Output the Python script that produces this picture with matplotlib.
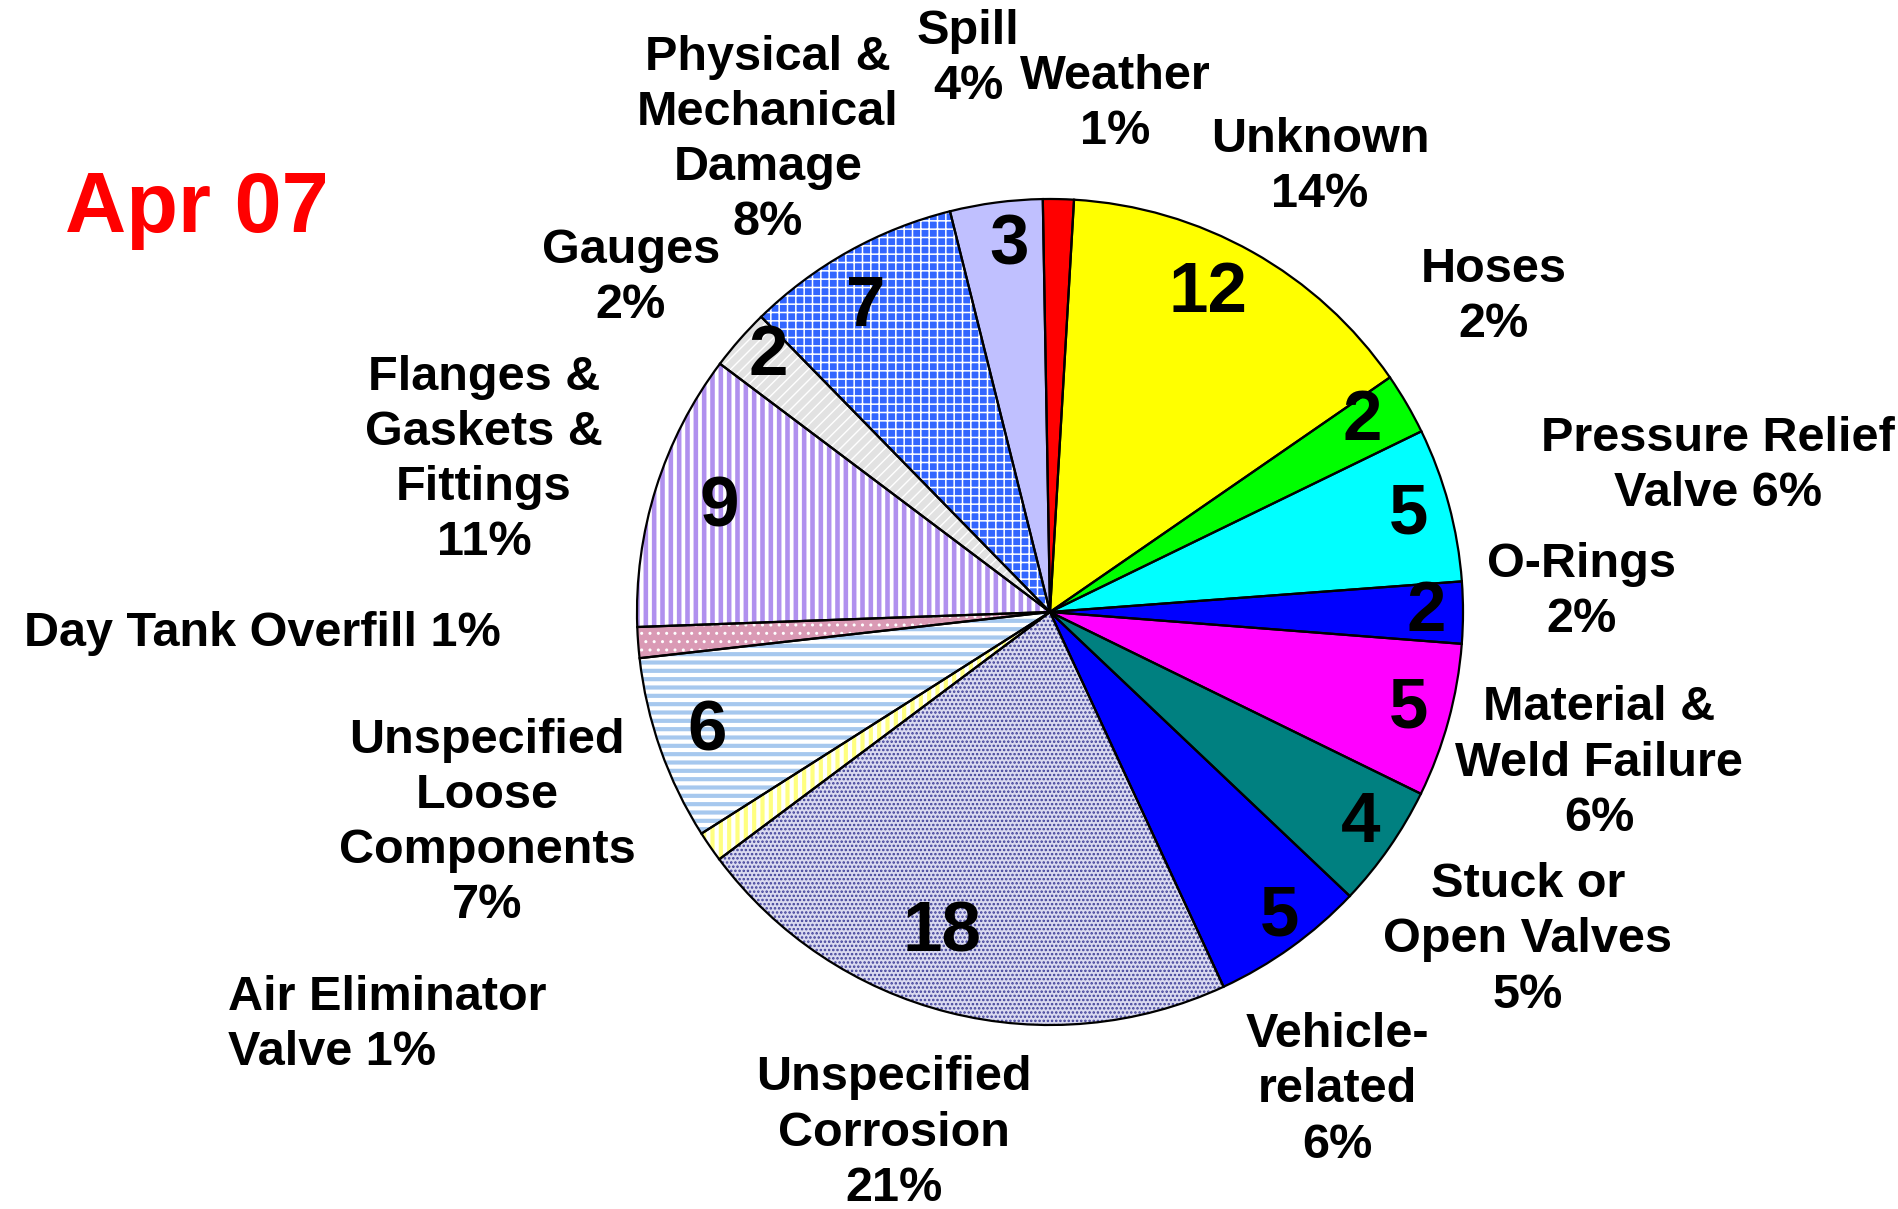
import numpy as np
import matplotlib.pyplot as plt

# slices, clockwise from 12 o'clock
causes = ['Weather', 'Unknown', 'Hoses', 'Pressure Relief Valve', 'O-Rings',
          'Material & Weld Failure', 'Stuck or Open Valves', 'Vehicle-related',
          'Unspecified Corrosion', 'Air Eliminator Valve',
          'Unspecified Loose Components', 'Day Tank Overfill',
          'Flanges & Gaskets & Fittings', 'Gauges',
          'Physical & Mechanical Damage', 'Spill']
counts = [1, 12, 2, 5, 2, 5, 4, 5, 18, 1, 6, 1, 9, 2, 7, 3]
labels = ['Weather\n1%', 'Unknown\n14%', 'Hoses\n2%', 'Pressure Relief\nValve 6%',
          'O-Rings\n2%', 'Material &\nWeld Failure\n6%', 'Stuck or\nOpen Valves\n5%',
          'Vehicle-\nrelated\n6%', 'Unspecified\nCorrosion\n21%',
          'Air Eliminator\nValve 1%', 'Unspecified\nLoose\nComponents\n7%',
          'Day Tank Overfill 1%', 'Flanges &\nGaskets &\nFittings\n11%',
          'Gauges\n2%', 'Physical &\nMechanical\nDamage\n8%', 'Spill\n4%']

faces = ['#FF0000', '#FFFF00', '#00FF00', '#00FFFF', '#0000FF', '#FF00FF',
         '#008080', '#0000FF', '#DADAF0', '#FFFFFF', '#FFFFFF', '#DA9AB5',
         '#FFFFFF', '#E2E2E2', '#3366FF', '#C0C0FF']
hatches = [None, None, None, None, None, None, None, None, '....', '||', '--',
           '..', '||', '///', '++', None]
hatch_colors = [None, None, None, None, None, None, None, None, '#3E3E98',
                '#FFFF80', '#A6C8EE', '#FFFFFF', '#B090EE', '#FFFFFF',
                '#FFFFFF', None]
hatch_lws = [0, 0, 0, 0, 0, 0, 0, 0, 1.2, 3.0, 3.0, 1.0, 3.3, 1.0, 1.1, 0]

# layout (pixels, y from top)
W, H = 1899, 1209
cx, cy, R = 1050, H - 612, 413
label_xy = [(1115, 104), (1320, 167), (1494, 297), (1718, 466), (1582, 592),
            (1599, 763), (1528, 940), (1337, 1090), (894, 1133), (228, 1025),
            (487, 823), (262, 633), (484, 460), (631, 278), (768, 140), (968, 59)]
# count label placement: fraction of radius and angle nudge (deg) from mid-angle
count_r = [0, 0.86, 0.885, 0.90, 0.91, 0.90, 0.91, 0.925, 0.82, 0, 0.88, 0,
           0.84, 0.92, 0.86, 0.89]
count_dang = [0, 3.0, 1.0, 0, 0, 0, 0.5, 1.3, -4.4, 0, 0, 0, 0, -0.8, 2.1, -1.1]

font = 'Liberation Sans'

fig = plt.figure(figsize=(W / 100, H / 100), dpi=100)
ax = fig.add_axes([0, 0, 1, 1])

wedges, _ = ax.pie(counts, colors=faces, startangle=91, counterclock=False,
                   center=(cx, cy), radius=R, wedgeprops=dict(linewidth=0))
for w, ht, hc, hlw in zip(wedges, hatches, hatch_colors, hatch_lws):
    if ht:
        w.set_hatch(ht)
        w.set_edgecolor(hc)
        if hasattr(w, 'set_hatch_linewidth'):
            w.set_hatch_linewidth(hlw)

# black outlines on top
ax.pie(counts, startangle=91, counterclock=False, center=(cx, cy), radius=R,
       wedgeprops=dict(fill=False, edgecolor='black', linewidth=1.6))

# counts inside the slices
for w, n, r, da in zip(wedges, counts, count_r, count_dang):
    if n < 2:
        continue
    ang = np.deg2rad((w.theta1 + w.theta2) / 2 + da)
    ax.text(cx + r * R * np.cos(ang), cy + r * R * np.sin(ang), str(n),
            ha='center', va='center', fontsize=51,
            fontweight='bold', family=font)

# outer labels
for i, (txt, (x, y)) in enumerate(zip(labels, label_xy)):
    if causes[i] == 'Air Eliminator Valve':
        ha, ma = 'left', 'left'
    else:
        ha, ma = 'center', 'center'
    ax.text(x, H - y, txt, ha=ha, va='center', multialignment=ma,
            fontsize=35, fontweight='bold', family=font, linespacing=1.29)

ax.text(197, H - 201, 'Apr 07', color='#FF0000', ha='center', va='center_baseline',
        fontsize=61, fontweight='bold', family=font)

ax.set_xlim(0, W)
ax.set_ylim(0, H)
ax.axis('off')
fig.savefig('out.png', dpi=100)
